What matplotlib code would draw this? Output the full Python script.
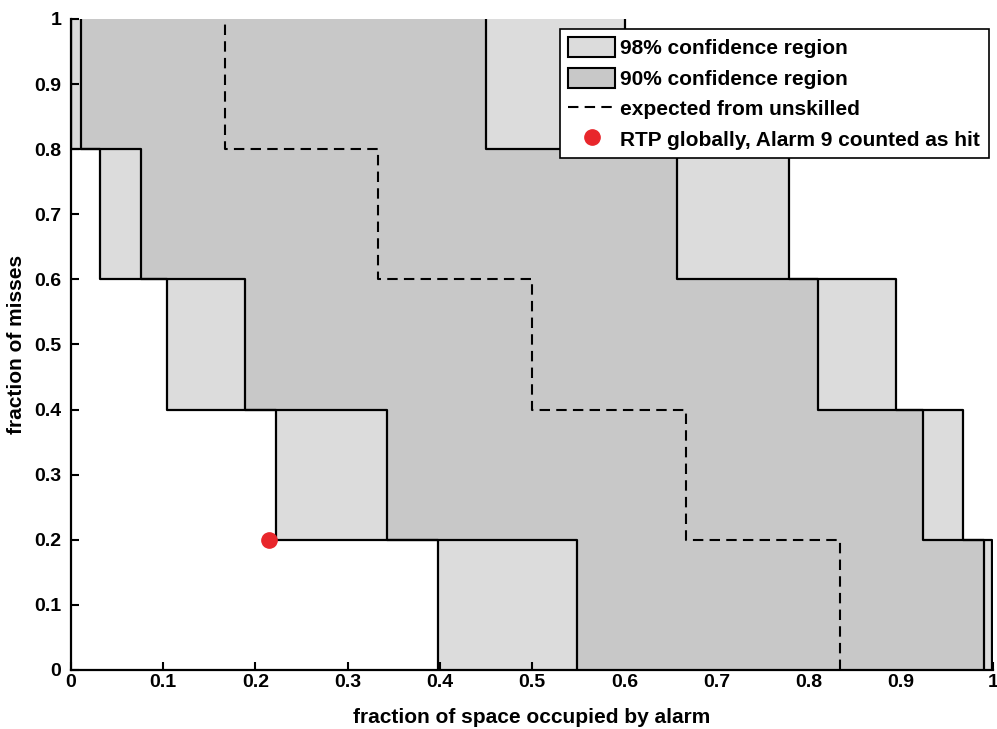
import numpy as np
import matplotlib.pyplot as plt
from matplotlib.patches import Patch
from matplotlib.lines import Line2D

plt.rcParams['font.family'] = ['Liberation Sans', 'DejaVu Sans']
plt.rcParams['font.weight'] = 'bold'

# miss levels (bottom edge of each band)
levels = [0.0, 0.2, 0.4, 0.6, 0.8]
# confidence boundaries (fraction of space) for each band, bottom to top
left98 = [0.3976, 0.2218, 0.1040, 0.0320, 0.0]
left90 = [0.5490, 0.3424, 0.1885, 0.0758, 0.0105]
right90 = [0.9895, 0.9234, 0.8100, 0.6566, 0.4500]
right98 = [0.9986, 0.9675, 0.8950, 0.7790, 0.6010]
# expected from unskilled
unskilled = [5/6, 4/6, 3/6, 2/6, 1/6]
# observed point
rtp_x = [0.2149]
rtp_y = [0.2]

ticklabels = ['0', '0.1', '0.2', '0.3', '0.4', '0.5', '0.6', '0.7', '0.8', '0.9', '1']

light = '#dcdcdc'
dark = '#c8c8c8'
red = '#e8262b'


def step_xy(b):
    xs, ys = [], []
    for i, v in enumerate(b):
        xs += [v, v]
        ys += [levels[i], levels[i] + 0.2]
    return xs, ys


fig = plt.figure(figsize=(9.97, 7.29), dpi=100)
ax = fig.add_axes([0.0712, 0.081, 0.925, 0.893])

l98 = np.array(left98)
r98 = np.array(right98)
l90 = np.array(left90)
r90 = np.array(right90)
ax.barh(levels, r98 - l98, left=l98, height=0.2, align='edge', color=light, linewidth=0, zorder=1)
ax.barh(levels, r90 - l90, left=l90, height=0.2, align='edge', color=dark, linewidth=0, zorder=2)

for b in [left98, left90, right90, right98]:
    xs, ys = step_xy(b)
    ax.plot(xs, ys, color='black', lw=1.6, zorder=3)

xs, ys = step_xy(unskilled)
ax.plot(xs, ys, color='black', lw=1.5, dashes=(5, 3), zorder=3)

ax.plot(rtp_x, rtp_y, 'o', color=red, markersize=11, zorder=5)

ax.set_xlim(0, 1)
ax.set_ylim(0, 1)
ax.set_xticks(np.arange(0, 1.01, 0.1))
ax.set_yticks(np.arange(0, 1.01, 0.1))
ax.set_xticklabels(ticklabels)
ax.set_yticklabels(ticklabels)
ax.tick_params(direction='in', length=6, width=1.5, labelsize=14)
ax.tick_params(axis='x', pad=3)
ax.tick_params(axis='y', pad=7)
ax.spines['top'].set_visible(False)
ax.spines['right'].set_visible(False)
ax.spines['left'].set_linewidth(1.6)
ax.spines['bottom'].set_linewidth(1.6)
ax.set_xlabel('fraction of space occupied by alarm', fontsize=15, fontweight='bold', labelpad=12)
ax.set_ylabel('fraction of misses', fontsize=15, fontweight='bold', labelpad=6)

handles = [
    Patch(facecolor=light, edgecolor='black', linewidth=1.5),
    Patch(facecolor=dark, edgecolor='black', linewidth=1.5),
    Line2D([], [], color='black', lw=1.5, dashes=(5, 3)),
    Line2D([], [], marker='o', color=red, linestyle='none', markersize=11),
]
labels = ['98% confidence region', '90% confidence region',
          'expected from unskilled', 'RTP globally, Alarm 9 counted as hit']
leg = ax.legend(handles, labels, loc='upper right', bbox_to_anchor=(0.995, 0.985),
                fontsize=15, frameon=True, fancybox=False, framealpha=1,
                edgecolor='black', borderpad=0.4, labelspacing=0.45,
                handlelength=2.25, handleheight=1.1, handletextpad=0.25,
                borderaxespad=0)
leg.get_frame().set_linewidth(1.2)
leg.set_zorder(10)

fig.savefig('out.png', dpi=100)
